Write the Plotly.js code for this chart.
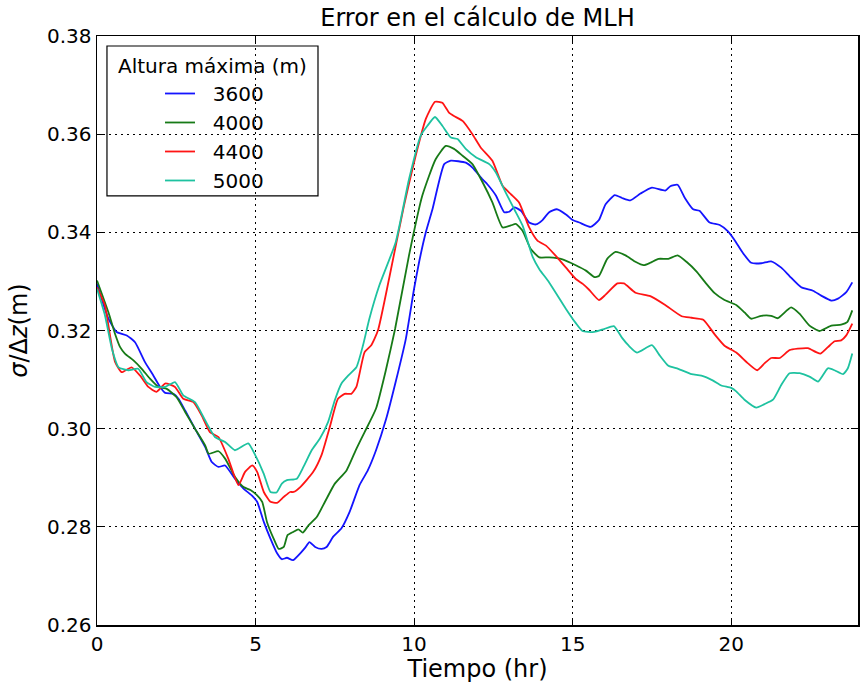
<!DOCTYPE html>
<html>
<head>
<meta charset="utf-8">
<script src="https://cdn.plot.ly/plotly-3.0.1.min.js"></script>
<style>html,body{margin:0;padding:0;background:#fff;}#chart{width:865px;height:686px;}</style>
</head>
<body>
<div id="chart"></div>
<script>
// ---- Data ----
const seriesNames = ["3600", "4000", "4400", "5000"];

const t3600 = [0,0.36,0.62,0.94,1.2,1.51,1.78,1.99,2.15,2.41,2.57,2.78,3.09,3.41,3.62,3.83,4.04,4.35,4.62,4.88,5.05,5.26,5.47,5.68,5.83,5.99,6.18,6.41,6.56,6.7,6.88,7.08,7.24,7.45,7.71,7.97,8.28,8.54,8.8,9.12,9.43,9.74,10.0,10.16,10.37,10.58,10.95,11.16,11.63,11.84,12.16,12.31,12.58,12.84,13.0,13.16,13.37,13.63,13.84,14.05,14.26,14.5,14.8,15.0,15.21,15.57,15.83,16.04,16.33,16.56,16.82,17.14,17.5,17.92,18.08,18.31,18.54,18.8,19.0,19.32,19.64,19.9,20.1,20.37,20.63,20.95,21.26,21.58,21.84,22.21,22.58,22.84,23.16,23.37,23.63,23.82];
const v3600 = [0.3295,0.3224,0.3197,0.319,0.3176,0.3136,0.3108,0.3085,0.3073,0.3071,0.3061,0.3037,0.300,0.2963,0.2932,0.2922,0.2925,0.2898,0.2878,0.2864,0.2851,0.281,0.2776,0.2746,0.2734,0.2737,0.2732,0.2746,0.2757,0.2769,0.2759,0.2755,0.2759,0.278,0.2797,0.2831,0.2885,0.2915,0.2956,0.302,0.3098,0.3183,0.3285,0.334,0.340,0.3447,0.3539,0.3546,0.3542,0.3532,0.3508,0.3498,0.3475,0.3441,0.3442,0.3451,0.3444,0.342,0.3416,0.3425,0.3441,0.3447,0.3436,0.3425,0.342,0.3411,0.3425,0.3457,0.3476,0.347,0.3465,0.3479,0.3491,0.3485,0.3494,0.3497,0.347,0.3447,0.3444,0.342,0.3415,0.3402,0.3385,0.3358,0.3338,0.3337,0.3341,0.3328,0.3311,0.3288,0.3281,0.3271,0.3261,0.3265,0.3278,0.3298];

const t4000 = [0,0.36,0.57,0.73,0.88,1.15,1.41,1.67,1.94,2.2,2.51,2.78,3.09,3.41,3.52,3.83,4.04,4.35,4.62,4.84,5.05,5.21,5.36,5.57,5.73,5.89,6.01,6.2,6.35,6.49,6.67,6.93,7.19,7.5,7.87,8.18,8.44,8.8,9.12,9.4,9.84,10.26,10.68,11.0,11.26,11.53,11.84,12.16,12.47,12.79,13.05,13.21,13.42,13.68,13.95,14.26,14.68,15.1,15.42,15.68,15.83,16.09,16.35,16.67,16.98,17.24,17.45,17.71,18.02,18.31,18.59,18.91,19.17,19.48,19.79,20.16,20.42,20.63,20.95,21.26,21.47,21.89,22.16,22.47,22.79,23.16,23.47,23.66,23.82];
const v4000 = [0.3302,0.3237,0.3193,0.3166,0.3153,0.3139,0.3122,0.3102,0.3085,0.3081,0.3064,0.3034,0.300,0.2966,0.2949,0.2954,0.2939,0.2902,0.2881,0.2875,0.2864,0.2851,0.281,0.2776,0.2755,0.2759,0.2783,0.279,0.2795,0.2788,0.2803,0.282,0.2851,0.2888,0.2915,0.2959,0.2993,0.3041,0.3122,0.3203,0.3353,0.3475,0.3549,0.3576,0.357,0.3556,0.3539,0.3502,0.3461,0.341,0.3414,0.3417,0.3403,0.3366,0.3349,0.3349,0.3345,0.3333,0.3322,0.3309,0.3311,0.3346,0.336,0.3353,0.334,0.3333,0.3338,0.3346,0.3346,0.3353,0.334,0.332,0.3299,0.3276,0.3262,0.3252,0.3237,0.3224,0.323,0.323,0.3225,0.3247,0.3234,0.321,0.3199,0.321,0.3212,0.3217,0.3241];

const t4400 = [0,0.25,0.41,0.57,0.78,1.09,1.36,1.62,1.88,2.15,2.46,2.72,3.04,3.3,3.56,3.83,4.14,4.46,4.67,4.9,5.05,5.26,5.47,5.68,5.89,6.09,6.2,6.41,6.82,7.08,7.34,7.6,7.81,8.02,8.18,8.44,8.65,8.86,9.21,9.68,10.05,10.37,10.66,10.89,11.1,11.26,11.53,11.84,12.1,12.47,12.79,13.05,13.31,13.63,13.89,14.16,14.47,14.79,15.1,15.32,15.52,15.83,16.04,16.41,16.62,16.98,17.45,17.92,18.44,18.75,19.12,19.48,19.79,20.16,20.53,20.82,21.05,21.26,21.53,21.84,22.1,22.42,22.68,22.82,23.05,23.26,23.47,23.63,23.82];
const v4400 = [0.3288,0.3251,0.319,0.3136,0.3115,0.3125,0.3108,0.3085,0.3075,0.3092,0.3085,0.3061,0.3054,0.3027,0.2993,0.2983,0.2939,0.2885,0.2912,0.2925,0.2912,0.2871,0.2851,0.2849,0.2861,0.2871,0.2871,0.2881,0.2912,0.2946,0.3003,0.3061,0.3071,0.3071,0.3085,0.3156,0.317,0.32,0.3305,0.3454,0.3556,0.3631,0.3666,0.3664,0.3644,0.3637,0.3627,0.36,0.3573,0.3546,0.3495,0.3478,0.3461,0.341,0.3383,0.3373,0.3352,0.3328,0.3305,0.3295,0.3283,0.3262,0.3273,0.3296,0.3296,0.3277,0.327,0.3252,0.3229,0.3226,0.3222,0.3192,0.3169,0.3155,0.3133,0.3119,0.3133,0.3144,0.3144,0.316,0.3163,0.3164,0.3156,0.3153,0.3166,0.3178,0.318,0.319,0.3214];

const t5000 = [0,0.25,0.47,0.68,0.99,1.3,1.56,1.83,2.15,2.46,2.72,3.09,3.41,3.72,4.04,4.35,4.77,4.99,5.26,5.47,5.66,5.83,5.99,6.3,6.51,6.77,7.03,7.29,7.5,7.71,7.92,8.18,8.39,8.59,8.9,9.42,9.84,10.21,10.42,10.66,10.89,11.16,11.37,11.63,11.95,12.37,12.58,12.89,13.16,13.42,13.74,13.95,14.26,14.79,15.1,15.31,15.68,15.99,16.3,16.56,16.77,17.03,17.5,17.76,18.02,18.33,18.75,19.06,19.43,19.69,20.0,20.16,20.42,20.79,21.05,21.32,21.58,21.84,22.16,22.47,22.74,23.05,23.26,23.53,23.68,23.82];
const v5000 = [0.3285,0.3231,0.3163,0.3125,0.3119,0.3122,0.3095,0.3085,0.3085,0.3095,0.3068,0.3054,0.3017,0.2983,0.2973,0.2956,0.297,0.2946,0.2908,0.2871,0.287,0.2888,0.2895,0.2898,0.2922,0.2956,0.298,0.3014,0.3058,0.3092,0.3108,0.3125,0.317,0.3224,0.3291,0.338,0.3508,0.3597,0.3617,0.3635,0.3617,0.3593,0.359,0.357,0.3553,0.3539,0.3522,0.3481,0.3447,0.3414,0.335,0.3325,0.3298,0.3244,0.3215,0.3199,0.3197,0.3203,0.3209,0.3185,0.3169,0.3155,0.317,0.3148,0.3128,0.3122,0.3111,0.3108,0.3098,0.3088,0.3083,0.3076,0.3059,0.3043,0.305,0.3059,0.3089,0.3113,0.3113,0.3106,0.3096,0.3123,0.3119,0.3111,0.3123,0.3153];

const xTicks = [0, 5, 10, 15, 20];
const xTickLabels = ["0", "5", "10", "15", "20"];
const yTicks = [0.26, 0.28, 0.30, 0.32, 0.34, 0.36, 0.38];
const yTickLabels = ["0.26", "0.28", "0.30", "0.32", "0.34", "0.36", "0.38"];

const colors = ["#1414ff", "#177a17", "#ff1414", "#1ec2a0"];
const allT = [t3600, t4000, t4400, t5000];
const allV = [v3600, v4000, v4400, v5000];

const FONT = "DejaVu Sans, Verdana, sans-serif";
const NB = "\u00a0\u00a0";

const traces = seriesNames.map((n, i) => ({
  type: "scatter", mode: "lines",
  x: allT[i], y: allV[i], name: NB + n,
  legendgroup: "g" + i,
  line: {color: colors[i], width: 1.8, shape: "spline", smoothing: 0.5}
}));

// plot area in pixels: left 97, right 858, top 36, bottom 625
const axBase = {
  showline: true, linecolor: "#000", linewidth: 1.5, mirror: "ticks",
  ticks: "inside", ticklen: 7, tickwidth: 1, tickcolor: "#000",
  showgrid: true, gridcolor: "#000", gridwidth: 1, griddash: "2px,4px",
  zeroline: false, tickfont: {family: FONT, size: 20, color: "#000"}
};

const layout = {
  width: 865, height: 686,
  margin: {l: 97, r: 7, t: 36, b: 61, pad: 0},
  paper_bgcolor: "#fff", plot_bgcolor: "#fff",
  font: {family: FONT, color: "#000"},
  title: {text: "Error en el cálculo de MLH", font: {family: FONT, size: 24, color: "#000"},
          x: 0.5, xanchor: "center", xref: "paper", y: 0.974, yanchor: "middle", yref: "container"},
  xaxis: Object.assign({}, axBase, {
    range: [0, 24], tickvals: xTicks, ticktext: xTickLabels,
    title: {text: "Tiempo (hr)", font: {family: FONT, size: 24, color: "#000"}, standoff: 2}
  }),
  yaxis: Object.assign({}, axBase, {
    range: [0.26, 0.38], tickvals: yTicks, ticktext: yTickLabels,
    title: {text: "<i>σ</i>/Δ<i>z</i>(m)", font: {family: FONT, size: 24, color: "#000"}, standoff: 12}
  }),
  showlegend: true,
  legend: {
    x: 0.0828, y: 0.9355, xanchor: "left", yanchor: "top",
    bgcolor: "rgba(0,0,0,0)", borderwidth: 0,
    font: {family: FONT, size: 20, color: "#000"},
    itemwidth: 30, traceorder: "grouped", tracegroupgap: 0
  },
  shapes: [{
    type: "rect", xref: "paper", yref: "paper",
    x0: 0.0131, x1: 0.2904, y0: 0.7284, y1: 0.983,
    line: {color: "#000", width: 1.2}, fillcolor: "#fff", layer: "below"
  }],
  annotations: [{
    text: "Altura máxima (m)", xref: "paper", yref: "paper",
    x: 0.1512, y: 0.949, xanchor: "center", yanchor: "middle",
    showarrow: false, font: {family: FONT, size: 20, color: "#000"}
  }]
};

Plotly.newPlot("chart", traces, layout, {displayModeBar: false, staticPlot: true});
</script>
</body>
</html>
